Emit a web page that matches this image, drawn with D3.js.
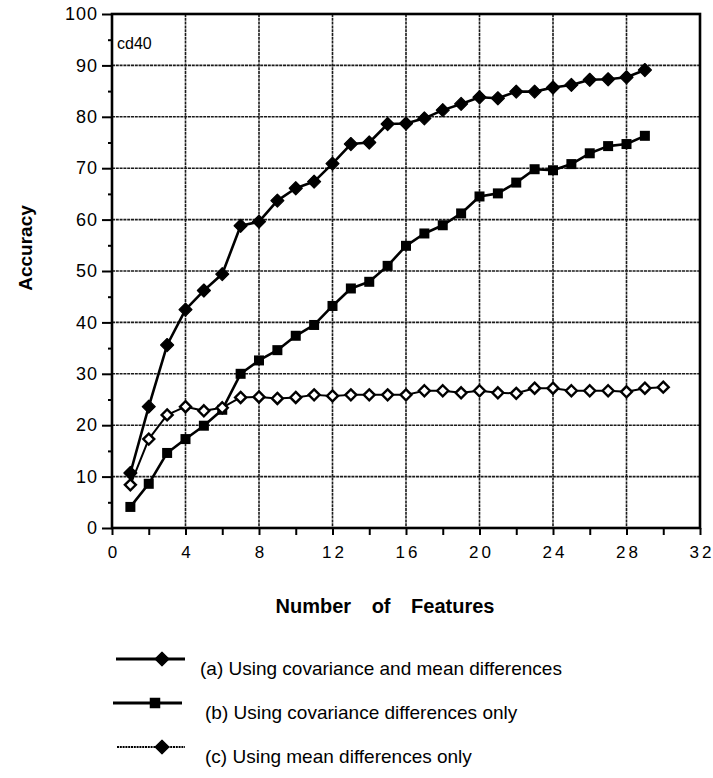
<!DOCTYPE html>
<html>
<head>
<meta charset="utf-8">
<script src="https://cdn.jsdelivr.net/npm/d3@7"></script>
<style>
  html, body { margin: 0; padding: 0; background: #fff; }
  svg { display: block; font-family: "Liberation Sans", Arial, sans-serif; }
</style>
</head>
<body>
<svg id="chart" width="713" height="778"></svg>
<script>
// Number of features per series
const featuresA = d3.range(1, 30);
const featuresB = d3.range(1, 30);
const featuresC = d3.range(1, 31);

// Accuracy (%) for each feature count
const accuracyA = [10.7, 23.6, 35.6, 42.5, 46.2, 49.4, 58.8, 59.6, 63.7, 66.1,
                   67.4, 70.9, 74.7, 75.0, 78.6, 78.7, 79.7, 81.3, 82.5, 83.8,
                   83.6, 84.9, 84.9, 85.7, 86.2, 87.2, 87.3, 87.7, 89.1];
const accuracyB = [4.1, 8.6, 14.6, 17.3, 19.9, 23.0, 30.0, 32.6, 34.6, 37.4,
                   39.5, 43.2, 46.6, 47.9, 51.0, 54.9, 57.3, 58.9, 61.2, 64.5,
                   65.1, 67.2, 69.8, 69.6, 70.8, 72.9, 74.3, 74.7, 76.3];
const accuracyC = [8.4, 17.3, 22.0, 23.6, 22.8, 23.4, 25.4, 25.5, 25.2, 25.4,
                   25.9, 25.7, 25.9, 25.9, 25.9, 25.9, 26.7, 26.7, 26.3, 26.7,
                   26.3, 26.2, 27.2, 27.2, 26.7, 26.7, 26.7, 26.5, 27.2, 27.4];

const xTicks = [0, 4, 8, 12, 16, 20, 24, 28, 32];
const yTicks = [0, 10, 20, 30, 40, 50, 60, 70, 80, 90, 100];

const legendLabels = [
  "(a) Using covariance and mean differences",
  "(b) Using covariance differences only",
  "(c) Using mean differences only"
];

const svg = d3.select("#chart");
const plotL = 112, plotR = 700, plotT = 14, plotB = 528;

const x = d3.scaleLinear().domain([0, 32]).range([plotL, plotR]);
const y = d3.scaleLinear().domain([0, 100]).range([plotB, plotT]);

// grid
const grid = svg.append("g")
  .attr("stroke", "#1a1a1a").attr("stroke-width", 1.6)
  .attr("stroke-dasharray", "3,0.8");
grid.selectAll("line.vx").data(xTicks.slice(1, -1)).join("line")
  .attr("x1", d => x(d)).attr("x2", d => x(d))
  .attr("y1", plotT).attr("y2", plotB);
grid.selectAll("line.hy").data(yTicks.slice(1, -1)).join("line")
  .attr("x1", plotL).attr("x2", plotR)
  .attr("y1", d => y(d)).attr("y2", d => y(d));

// frame
svg.append("rect")
  .attr("x", plotL).attr("y", plotT)
  .attr("width", plotR - plotL).attr("height", plotB - plotT)
  .attr("fill", "none").attr("stroke", "#000").attr("stroke-width", 2.6);

// y axis
const yAxis = svg.append("g")
  .attr("transform", `translate(${plotL},0)`)
  .call(d3.axisLeft(y).tickValues(yTicks).tickSize(10).tickPadding(4)
    .tickFormat(d3.format("d")));
yAxis.select(".domain").remove();
yAxis.selectAll(".tick line").attr("stroke", "#000").attr("stroke-width", 2);
yAxis.selectAll(".tick text")
  .attr("font-family", "Liberation Sans, Arial, sans-serif")
  .attr("font-size", 18).attr("fill", "#000")
  .attr("letter-spacing", "1px");
const yMinor = svg.append("g")
  .attr("transform", `translate(${plotL},0)`)
  .call(d3.axisLeft(y).tickValues(d3.range(5, 100, 10)).tickSize(4).tickFormat(""));
yMinor.select(".domain").remove();
yMinor.selectAll(".tick line").attr("stroke", "#000").attr("stroke-width", 2);

// x axis
const xAxis = svg.append("g")
  .attr("transform", `translate(0,${plotB})`)
  .call(d3.axisBottom(x).tickValues(xTicks).tickSize(7).tickPadding(11)
    .tickFormat(d => String(d)));
xAxis.select(".domain").remove();
xAxis.selectAll(".tick line").attr("stroke", "#000").attr("stroke-width", 2);
xAxis.selectAll(".tick text")
  .attr("font-family", "Liberation Sans, Arial, sans-serif")
  .attr("font-size", 17).attr("fill", "#000")
  .attr("letter-spacing", "3px")
  .attr("dx", "1.5px");
const xMinor = svg.append("g")
  .attr("transform", `translate(0,${plotB})`)
  .call(d3.axisBottom(x).tickValues(d3.range(2, 32, 4)).tickSize(7).tickFormat(""));
xMinor.select(".domain").remove();
xMinor.selectAll(".tick line").attr("stroke", "#000").attr("stroke-width", 2);

// axis titles
svg.append("text")
  .attr("transform", "translate(32,248) rotate(-90)")
  .attr("text-anchor", "middle")
  .attr("font-size", 19).attr("font-weight", "bold")
  .text("Accuracy");
svg.append("text")
  .attr("x", 385).attr("y", 613)
  .attr("text-anchor", "middle")
  .attr("font-size", 20).attr("font-weight", "bold")
  .attr("word-spacing", "15px")
  .text("Number of Features");

svg.append("text")
  .attr("x", 117).attr("y", 49)
  .attr("font-size", 16)
  .text("cd40");

// series
const lineGen = d3.line().x(d => x(d[0])).y(d => y(d[1]));
const rhombus = r => `M0,${-r}L${r},0L0,${r}L${-r},0Z`;

const series = [
  { xs: featuresA, ys: accuracyA, width: 2.6, marker: "filledDiamond" },
  { xs: featuresB, ys: accuracyB, width: 2.6, marker: "square" },
  { xs: featuresC, ys: accuracyC, width: 2.0, marker: "openDiamond" }
];

function drawMarker(g, kind, scale = 1) {
  if (kind === "square") {
    const s = 5 * scale;
    g.append("rect").attr("x", -s).attr("y", -s)
      .attr("width", 2 * s).attr("height", 2 * s).attr("fill", "#000");
  } else if (kind === "filledDiamond") {
    g.append("path").attr("d", rhombus(6.5 * scale))
      .attr("fill", "#000").attr("stroke", "#000")
      .attr("stroke-width", 1.2).attr("stroke-linejoin", "round");
  } else {
    g.append("path").attr("d", rhombus(5.5 * scale))
      .attr("fill", "#fff").attr("stroke", "#000").attr("stroke-width", 2.4);
  }
}

series.forEach(s => {
  const pts = s.xs.map((v, i) => [v, s.ys[i]]);
  svg.append("path").datum(pts)
    .attr("d", lineGen)
    .attr("fill", "none").attr("stroke", "#000")
    .attr("stroke-width", s.width).attr("stroke-linejoin", "round");
  svg.append("g").selectAll("g").data(pts).join("g")
    .attr("transform", d => `translate(${x(d[0])},${y(d[1])})`)
    .each(function () { drawMarker(d3.select(this), s.marker); });
});

// legend
const legendRows = [
  { y: 659, x1: 116, x2: 185, mx: 162, width: 3, dash: null, marker: "filledDiamond", tx: 200 },
  { y: 703, x1: 113, x2: 182, mx: 155, width: 3, dash: null, marker: "square", tx: 205 },
  { y: 747, x1: 117, x2: 185, mx: 162, width: 2, dash: "2,0.8", marker: "filledDiamond", tx: 205 }
];
legendRows.forEach((r, i) => {
  svg.append("line")
    .attr("x1", r.x1).attr("x2", r.x2).attr("y1", r.y).attr("y2", r.y)
    .attr("stroke", "#000").attr("stroke-width", r.width)
    .attr("stroke-dasharray", r.dash);
  drawMarker(svg.append("g").attr("transform", `translate(${r.mx},${r.y})`), r.marker, 1.05);
  svg.append("text")
    .attr("x", r.tx).attr("y", r.y + 16)
    .attr("font-size", 19)
    .text(legendLabels[i]);
});
</script>
</body>
</html>
